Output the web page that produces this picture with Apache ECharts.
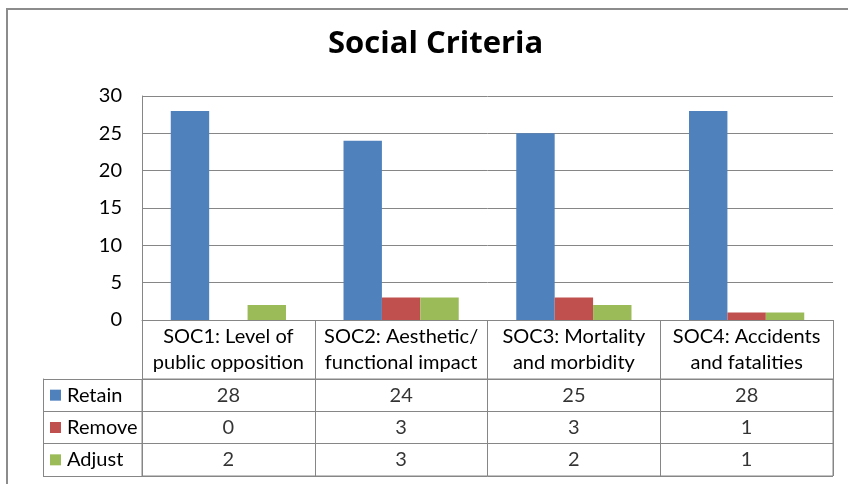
<!DOCTYPE html>
<html>
<head>
<meta charset="utf-8">
<title>Social Criteria</title>
<script src="https://cdn.jsdelivr.net/npm/echarts@6/dist/echarts.min.js"></script>
<style>
  html, body { margin: 0; padding: 0; background: #ffffff; }
  #chart { width: 848px; height: 484px; }
</style>
</head>
<body>
<div id="chart"></div>
<script>
// Criteria along the x axis (two-line headers in the data table)
const categories = [
  'SOC1: Level of\npublic opposition',
  'SOC2: Aesthetic/\nfunctional impact',
  'SOC3: Mortality\nand morbidity',
  'SOC4: Accidents\nand fatalities'
];
// Votes per criterion
const retain = [28, 24, 25, 28];
const remove = [0, 3, 3, 1];
const adjust = [2, 3, 2, 1];
const seriesNames = ['Retain', 'Remove', 'Adjust'];
const seriesValues = [retain, remove, adjust];
const seriesColors = ['#4F81BD', '#C0504D', '#9BBB59'];
// Value axis ticks
const yMin = 0, yMax = 30, yStep = 5;

const FONT = 'Lato, "Open Sans", sans-serif';
const LINE = '#868686';

// Cells of the data table: [category index, row name, value]
const tableCells = [];
seriesValues.forEach((vals, s) => {
  vals.forEach((v, c) => tableCells.push([c, seriesNames[s], v]));
});

const rich = {};
seriesNames.forEach((n, i) => {
  rich['k' + i] = { width: 11, height: 11, backgroundColor: seriesColors[i] };
});
rich.t = { fontSize: 20, fontFamily: FONT, color: '#000', padding: [0, 0, 0, 6] };

const chart = echarts.init(document.getElementById('chart'), null, { renderer: 'canvas' });
chart.setOption({
  animation: false,
  backgroundColor: '#ffffff',
  title: {
    text: 'Social Criteria',
    left: 323,
    top: 24,
    textStyle: { fontFamily: '"Open Sans", Lato, sans-serif', fontWeight: 'bold', fontSize: 31, color: '#000' }
  },
  graphic: [{
    type: 'rect',
    shape: { x: 7, y: 9, width: 900, height: 520 },
    style: { fill: 'none', stroke: '#8c8c8c', lineWidth: 2 },
    silent: true
  }],
  grid: [
    { left: 142, right: 15, top: 96, height: 224, containLabel: false },
    { left: 142, right: 15, top: 379, height: 97, containLabel: false,
      show: true, borderColor: LINE, borderWidth: 1, backgroundColor: 'transparent' }
  ],
  xAxis: [
    {
      type: 'category', gridIndex: 0, data: categories,
      axisLine: { show: true, lineStyle: { color: LINE, width: 1 } },
      axisTick: { show: true, length: 59, inside: false, lineStyle: { color: LINE, width: 1 } },
      axisLabel: { fontFamily: FONT, fontSize: 20, color: '#000', lineHeight: 26, margin: 4, interval: 0 },
      splitLine: { show: false }
    },
    {
      type: 'category', gridIndex: 1, data: categories,
      axisLine: { show: false }, axisTick: { show: false }, axisLabel: { show: false },
      splitLine: { show: true, interval: 0, lineStyle: { color: LINE, width: 1 } }
    }
  ],
  yAxis: [
    {
      type: 'value', gridIndex: 0, min: yMin, max: yMax, interval: yStep,
      axisLine: { show: true, lineStyle: { color: LINE, width: 1 } },
      axisTick: { show: false },
      axisLabel: { fontFamily: FONT, fontSize: 20, color: '#000', margin: 20 },
      splitLine: { show: true, lineStyle: { color: LINE, width: 1 } }
    },
    {
      type: 'category', gridIndex: 1, data: seriesNames, inverse: true,
      axisLine: { show: true, lineStyle: { color: LINE, width: 1 } },
      axisTick: { show: true, length: 99, inside: false, lineStyle: { color: LINE, width: 1 } },
      splitLine: { show: true, interval: 0, lineStyle: { color: LINE, width: 1 } },
      axisLabel: {
        align: 'left', margin: 92, interval: 0,
        formatter: (v, i) => '{k' + i + '|}{t|' + v + '}',
        rich: rich
      }
    },
    {
      type: 'category', gridIndex: 1, data: seriesNames, position: 'left', offset: 99,
      axisLine: { show: true, lineStyle: { color: LINE, width: 1 } },
      axisTick: { show: false }, axisLabel: { show: false }, splitLine: { show: false }
    }
  ],
  series: [
    ...seriesNames.map((name, i) => ({
      name: name, type: 'bar', xAxisIndex: 0, yAxisIndex: 0,
      data: seriesValues[i],
      barGap: '0%', barCategoryGap: '33.3%',
      itemStyle: { color: seriesColors[i] }
    })),
    {
      name: 'table', type: 'scatter', xAxisIndex: 1, yAxisIndex: 1,
      data: tableCells, symbolSize: 1, itemStyle: { color: 'rgba(0,0,0,0)' },
      label: {
        show: true, position: 'inside',
        formatter: p => String(p.value[2]),
        fontFamily: FONT, fontSize: 20, color: '#000'
      },
      silent: true
    }
  ]
});
</script>
</body>
</html>
